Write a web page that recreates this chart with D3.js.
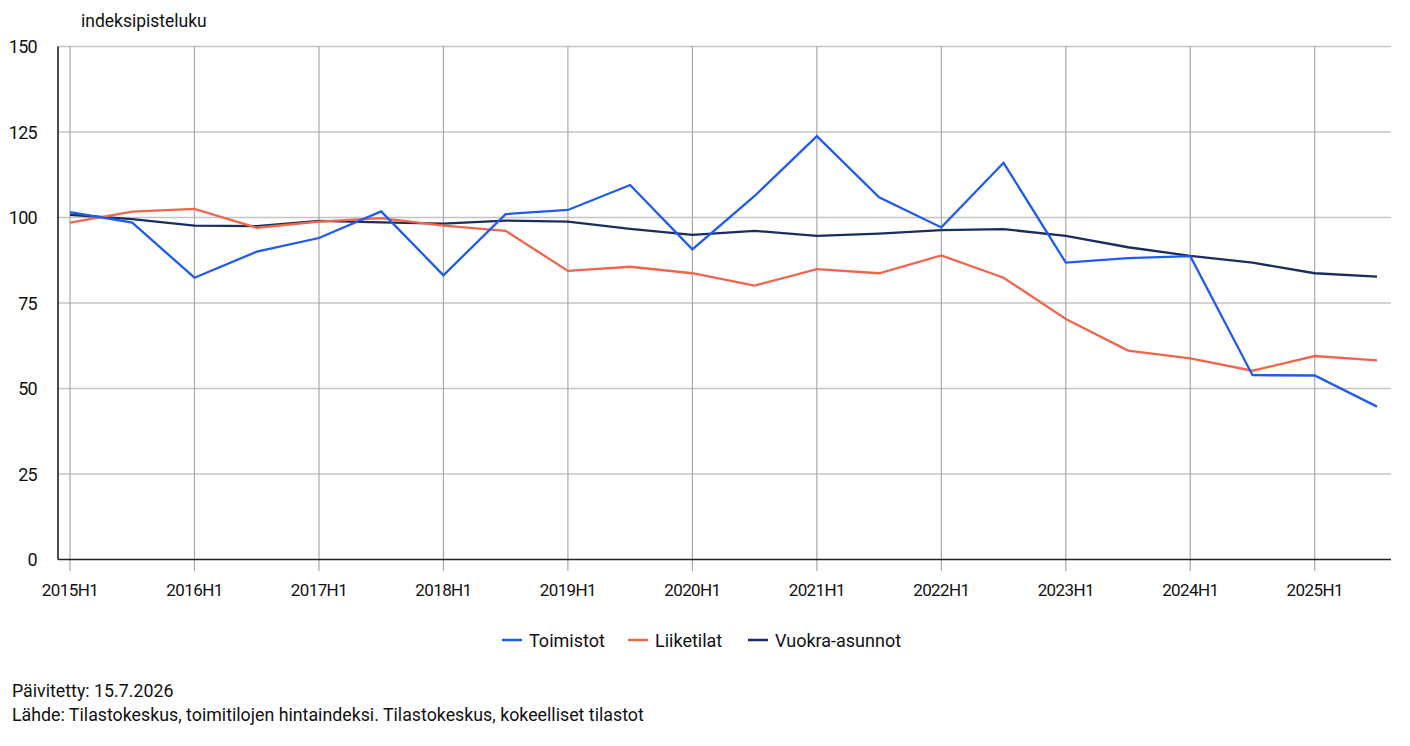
<!DOCTYPE html>
<html lang="fi">
<head>
<meta charset="utf-8" />
<title>Hintaindeksit</title>
<script src="https://cdn.jsdelivr.net/npm/d3@7"></script>
<style>
  html, body { margin:0; padding:0; background:#fff; }
  body { font-family: Roboto, "Noto Sans", sans-serif; }
  svg text { fill:#111; }
</style>
</head>
<body>
<svg id="chart" width="1410" height="746"></svg>
<script>
// --- data ----------------------------------------------------------------
const periods = ["2015H1","2015H2","2016H1","2016H2","2017H1","2017H2","2018H1","2018H2",
  "2019H1","2019H2","2020H1","2020H2","2021H1","2021H2","2022H1","2022H2",
  "2023H1","2023H2","2024H1","2024H2","2025H1","2025H2"];

const toimistot = [101.6,98.5,82.4,90.0,94.0,101.8,83.1,101.0,102.2,109.5,90.7,106.3,
  123.8,105.9,97.1,116.0,86.8,88.1,88.7,53.9,53.8,44.7];
const liiketilat = [98.5,101.7,102.5,97.0,98.8,99.8,97.6,96.1,84.4,85.6,83.7,80.1,
  84.9,83.7,88.9,82.4,70.3,61.1,58.8,55.2,59.5,58.2];
const vuokraAsunnot = [100.8,99.5,97.6,97.5,99.0,98.6,98.2,99.1,98.8,96.7,94.9,96.1,
  94.6,95.3,96.3,96.6,94.6,91.3,88.8,86.8,83.7,82.7];

const yTicks = [0,25,50,75,100,125,150];
const seriesNames = ["Toimistot","Liiketilat","Vuokra-asunnot"];
const seriesColors = ["#1f5cec","#f2644c","#1b2d5c"];

(function () {
  // --- chart ---------------------------------------------------------------
  const svg = d3.select("#chart");
  const m = { left: 58, right: 1391, top: 46.5, bottom: 559.5 };

  const x = d3.scaleLinear().domain([0, periods.length - 1]).range([70, 1377]);
  const y = d3.scaleLinear().domain([0, 150]).range([m.bottom, m.top]);

  // horizontal grid
  svg.append("g")
    .selectAll("line")
    .data(yTicks.filter(d => d > 0))
    .join("line")
    .attr("x1", m.left).attr("x2", m.right)
    .attr("y1", d => y(d)).attr("y2", d => y(d))
    .attr("stroke", "#c4c4c4").attr("stroke-width", 1.5);

  // vertical grid at each H1 (runs down through the tick)
  const h1 = periods.map((p, i) => i).filter(i => periods[i].endsWith("H1"));
  svg.append("g")
    .selectAll("line")
    .data(h1)
    .join("line")
    .attr("x1", d => x(d)).attr("x2", d => x(d))
    .attr("y1", m.top).attr("y2", 571)
    .attr("stroke", "#a8a8a8").attr("stroke-width", 1.2);

  // axis lines
  svg.append("line").attr("x1", m.left).attr("x2", m.left).attr("y1", m.top).attr("y2", m.bottom)
    .attr("stroke", "#111").attr("stroke-width", 1.5);
  svg.append("line").attr("x1", m.left).attr("x2", m.right).attr("y1", m.bottom).attr("y2", m.bottom)
    .attr("stroke", "#222").attr("stroke-width", 1.5);

  // y labels
  svg.append("g")
    .selectAll("text")
    .data(yTicks)
    .join("text")
    .attr("x", 37).attr("y", d => y(d) + 6.5)
    .attr("text-anchor", "end")
    .attr("font-size", 18)
    .attr("letter-spacing", -0.7)
    .text(d => d);

  // x labels
  svg.append("g")
    .selectAll("text")
    .data(h1)
    .join("text")
    .attr("x", d => x(d)).attr("y", 596)
    .attr("text-anchor", "middle")
    .attr("font-size", 17)
    .attr("letter-spacing", -0.6)
    .text(d => periods[d]);

  svg.append("text").attr("x", 81).attr("y", 27).attr("font-size", 17.5).text("indeksipisteluku");

  // lines
  const allSeries = [toimistot, liiketilat, vuokraAsunnot];
  const line = d3.line().x((d, i) => x(i)).y(d => y(d));
  [2, 1, 0].forEach(k => {
    svg.append("path")
      .datum(allSeries[k])
      .attr("fill", "none")
      .attr("stroke", seriesColors[k])
      .attr("stroke-width", 2.3)
      .attr("d", line);
  });

  // legend
  const legendX = [502, 628, 748];
  const lg = svg.append("g").selectAll("g").data(seriesNames).join("g")
    .attr("transform", (d, i) => `translate(${legendX[i]},640)`);
  lg.append("line").attr("x1", 0).attr("x2", 20).attr("y1", 0).attr("y2", 0)
    .attr("stroke", (d, i) => seriesColors[i]).attr("stroke-width", 2.5);
  lg.append("text").attr("x", 27).attr("y", 6.5).attr("font-size", 18).text(d => d);

  // footer
  svg.append("text").attr("x", 12).attr("y", 697).attr("font-size", 17.8).text("Päivitetty: 15.7.2026");
  svg.append("text").attr("x", 12).attr("y", 721).attr("font-size", 17.8)
    .text("Lähde: Tilastokeskus, toimitilojen hintaindeksi. Tilastokeskus, kokeelliset tilastot");
})();
</script>
</body>
</html>
